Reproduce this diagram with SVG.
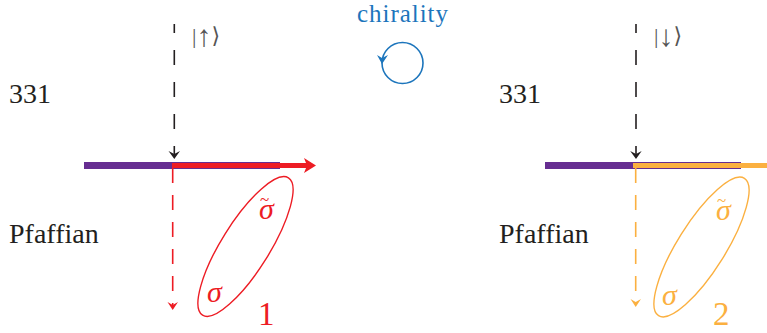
<svg xmlns="http://www.w3.org/2000/svg" width="767" height="333" viewBox="0 0 767 333">
<style>
text{font-family:"Liberation Serif","Times New Roman",serif}
.lbl{font-size:28px;fill:#231f20}
.ket{font-family:"Liberation Serif","DejaVu Sans",serif;font-size:22px;fill:#555}
.arr{font-size:30px}
.sig{font-style:italic;font-size:30px}
.til{font-size:17px}
.num{font-size:33px}
.red{fill:#ed1c24}
.org{fill:#fbb040}
.bd{stroke:#231f20;stroke-width:1.6;stroke-dasharray:15 17;stroke-dashoffset:6;fill:none}
.rd{stroke:#ed1c24;stroke-width:1.6;stroke-dasharray:15 12;fill:none}
.od{stroke:#fbb040;stroke-width:1.6;stroke-dasharray:15 12;fill:none}
</style>
<g id="labels">
<text class="lbl" x="9" y="103">331</text>
<text class="lbl" x="9" y="243">Pfaffian</text>
<text class="lbl" x="499" y="103">331</text>
<text class="lbl" x="499" y="243">Pfaffian</text>
</g>
<g id="chirality">
<text x="357" y="22" font-size="25" fill="#1c75bc" textLength="91">chirality</text>
<circle cx="402.5" cy="63" r="20.5" fill="none" stroke="#1c75bc" stroke-width="1.6"/>
<path d="M382,64 L377,55 L382,58 L388,55 Z" fill="#1c75bc"/>
</g>
<g id="left">
<rect x="84" y="162" width="196" height="7" fill="#662d91"/>
<rect x="172" y="163" width="136" height="5" fill="#ed1c24"/>
<path d="M316,165.5 L304,158 L307,165.5 L304,173 Z" fill="#ed1c24"/>
<text class="ket" x="192" y="43">|<tspan class="arr" dy="3">↑</tspan><tspan dy="-3">⟩</tspan></text>
<ellipse cx="245.5" cy="246.5" rx="81" ry="24" transform="rotate(-58 245.5 246.5)" fill="none" stroke="#ed1c24" stroke-width="1.4"/>
<text class="sig red" x="259" y="219">σ<tspan class="til" dx="-14" dy="-14">~</tspan></text>
<text class="sig red" x="207" y="302">σ</text>
<text class="num red" x="258" y="325">1</text>
</g>
<g id="right">
<rect x="545" y="162" width="196" height="7" fill="#662d91"/>
<rect x="633" y="163" width="134" height="5" fill="#fbb040"/>
<text class="ket" x="654" y="43">|<tspan class="arr" dy="3">↓</tspan><tspan dy="-3">⟩</tspan></text>
<ellipse cx="701.5" cy="247" rx="81" ry="24" transform="rotate(-58 701.5 247)" fill="none" stroke="#fbb040" stroke-width="1.4"/>
<text class="sig org" x="716" y="220">σ<tspan class="til" dx="-14" dy="-14">~</tspan></text>
<text class="sig org" x="662" y="305">σ</text>
<text class="num org" x="713" y="325">2</text>
</g>
<g id="connectors">
<line class="bd" x1="174.3" y1="24" x2="174.3" y2="156"/>
<path d="M174.3,159 L168.5,151 L174.3,154 L180,151 Z" fill="#231f20"/>
<line class="rd" x1="172.7" y1="168" x2="172.7" y2="307"/>
<path d="M172.7,310 L167.5,302 L172.7,305 L178,302 Z" fill="#ed1c24"/>
<line class="bd" x1="636" y1="24" x2="636" y2="156"/>
<path d="M636,159 L630.2,151 L636,154 L641.7,151 Z" fill="#231f20"/>
<line class="od" x1="635.7" y1="168" x2="635.7" y2="304"/>
<path d="M635.7,307 L630.5,299 L635.7,302 L641,299 Z" fill="#fbb040"/>
</g>
</svg>
